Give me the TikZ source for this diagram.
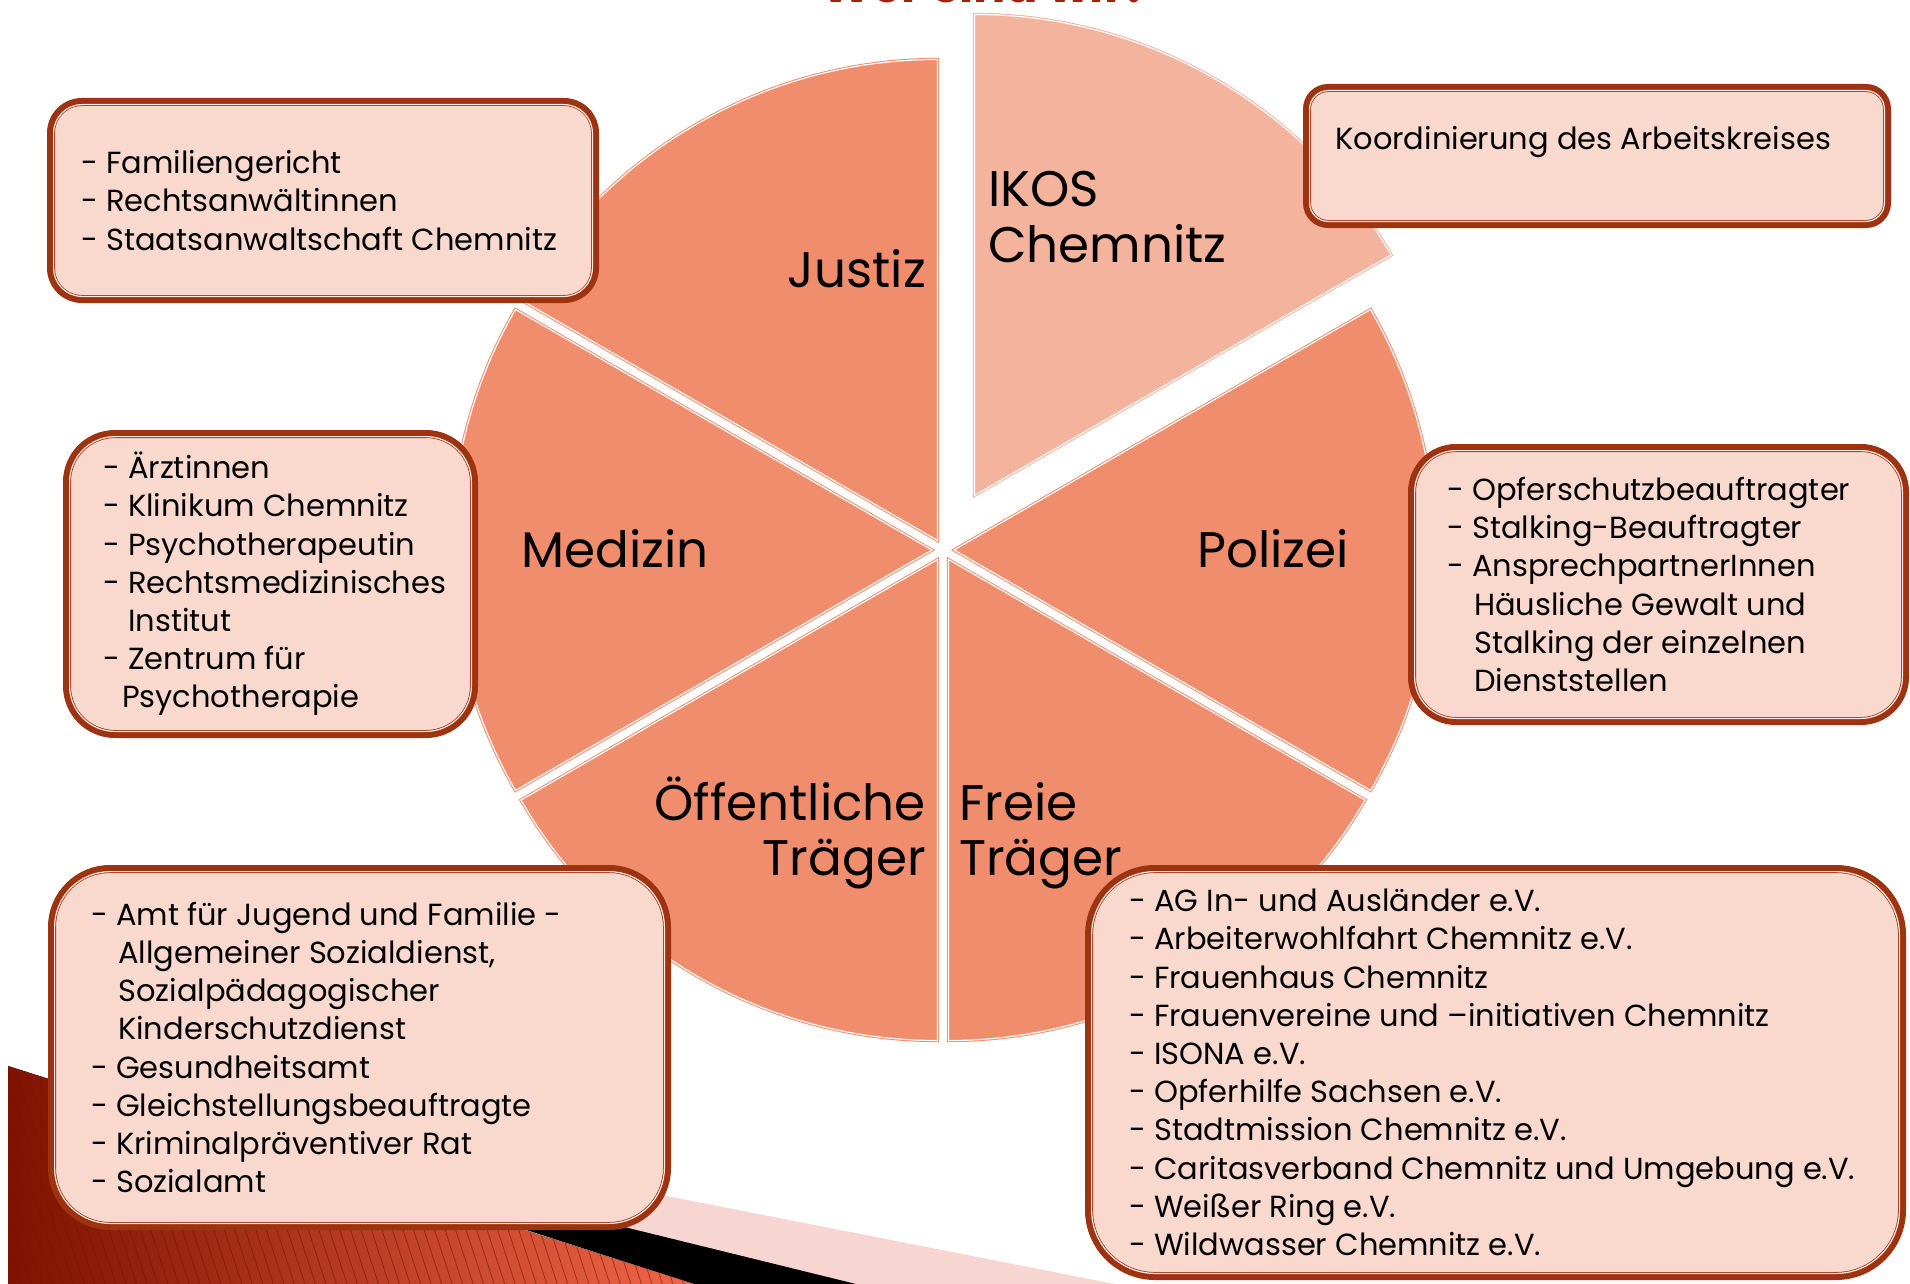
\documentclass[tikz,border=0pt]{standalone}
\usepackage{fontspec}
\setmainfont{Poppins}
\usepackage{tikz}
\usetikzlibrary{patterns.meta}

\definecolor{slicecol}{HTML}{EF8D6D}
\definecolor{ikoscol}{HTML}{F4B39D}
\definecolor{boxfill}{HTML}{F9D9CD}
\definecolor{boxline}{HTML}{9E3311}
\definecolor{boxlight}{HTML}{FBEAE3}
\definecolor{titlered}{HTML}{A3200F}
\definecolor{banddark}{HTML}{7E1200}
\definecolor{bandmid}{HTML}{C0280C}
\definecolor{bandlight}{HTML}{F06548}
\definecolor{hatchpink}{HTML}{F7D6D2}

\newcommand{\boxfont}{\fontsize{30.5}{38.2}\selectfont}
\newcommand{\slicefont}{\fontsize{50}{55}\selectfont}
\newcommand{\titlefont}{\fontsize{48}{52}\selectfont\bfseries}
\newcommand{\pieR}{481}

\tikzset{
	slice/.style={fill=#1, draw=#1, line width=1pt, double=white, double distance=1.2pt},
	infobox/.style={rectangle, anchor=north west, rounded corners=#1, fill=boxfill, draw=boxline, line width=8pt, inner sep=0pt, outer sep=0pt},
	boxinner/.style={draw=boxlight, line width=1.2pt},
	boxtext/.style={anchor=west, align=left, font=\boxfont, inner sep=0pt},
	slicelabel/.style={font=\slicefont, inner sep=0pt}
}

\begin{document}
\begin{tikzpicture}[x=1pt,y=-1pt]
		\useasboundingbox (0,0) rectangle (1910,1284);
		\clip (0,0) rectangle (1910,1284);
		\fill[white] (0,0) rectangle (1910,1284);
%		\draw[help lines,step=100] (0,0) grid (1910,1284);
		\path (943,550) coordinate (centre);

		% bands in the lower left corner
		\fill[hatchpink] (560,1175) -- (1115,1284) -- (856,1284) -- (560,1214) -- cycle;
		\fill[black] (169,1115) -- (856,1284) -- (694,1284) -- cycle;
		\fill[left color=banddark, middle color=bandmid, right color=bandlight] (8,1066) -- (694,1284) -- (8,1284) -- cycle;
		\fill[pattern={Lines[angle=-72,distance=10pt,line width=0.8pt]}, pattern color=banddark, opacity=0.6] (8,1066) -- (694,1284) -- (8,1284) -- cycle;

		% pie
		\foreach \a/\n in {90/justiz, 150/medizin, 210/oeff, 270/freie, 330/polizei}{
			\path (centre) ++(-\a-30:11) coordinate (\n tip);
			\draw[slice=slicecol] (\n tip) -- ++(-\a:\pieR) arc[start angle=-\a, end angle=-\a-60, radius=\pieR] -- cycle;
		}
		\path (centre) ++(-60:63) coordinate (ikostip);
		\draw[slice=ikoscol] (ikostip) -- ++(-30:\pieR) arc[start angle=-30, end angle=-90, radius=\pieR] -- cycle;

		\path (986,3) node(title) [anchor=base, font=\titlefont, text=titlered] {Wer sind wir?};

		\path (926,287) node(justizlabel) [slicelabel, anchor=base east] {Justiz};
		\path (988,207) node(ikoslabel) [slicelabel, anchor=base west] {IKOS};
		\path (988,262) node(ikoslabel2) [slicelabel, anchor=base west] {Chemnitz};
		\path (1197,567) node(polizeilabel) [slicelabel, anchor=base west] {Polizei};
		\path (521,567) node(medizinlabel) [slicelabel, anchor=base west] {Medizin};
		\path (926,820) node(oefflabel) [slicelabel, anchor=base east] {Öffentliche};
		\path (926,875) node(oefflabel2) [slicelabel, anchor=base east] {Träger};
		\path (959,820) node(freielabel) [slicelabel, anchor=base west] {Freie};
		\path (959,875) node(freielabel2) [slicelabel, anchor=base west] {Träger};

		% boxes
		\path (51,102) node(justizbox) [infobox=31, minimum width=544, minimum height=197] {};
		\path (1307,88) node(ikosbox) [infobox=21, minimum width=580, minimum height=136] {};
		\path (1412,448) node(polizeibox) [infobox=44, minimum width=493, minimum height=273] {};
		\path (67,434) node(medizinbox) [infobox=48, minimum width=407, minimum height=300] {};
		\path (52,869) node(oeffbox) [infobox=58, minimum width=615, minimum height=357] {};
		\path (1089,869) node(freiebox) [infobox=66, minimum width=813, minimum height=407] {};
		\foreach \b/\r in {justizbox/28.5, ikosbox/18.5, polizeibox/41.5, medizinbox/45.5, oeffbox/55.5, freiebox/63.5}
			\draw[boxinner, rounded corners=\r] ([shift={(2.6,2.6)}]\b.north west) rectangle ([shift={(-2.6,-2.6)}]\b.south east);

		\path ([xshift=30]justizbox.west) node(justiztext) [boxtext]
			{- Familiengericht\\- Rechtsanwältinnen\\- Staatsanwaltschaft Chemnitz};
		\path (1335,150) node(ikostext) [boxtext, anchor=base west] {Koordinierung des Arbeitskreises};
		\path ([xshift=35]polizeibox.west) node(polizeitext) [boxtext]
			{- Opferschutzbeauftragter\\- Stalking-Beauftragter\\- AnsprechpartnerInnen\\
			\hspace*{27pt}Häusliche Gewalt und\\\hspace*{27pt}Stalking der einzelnen\\\hspace*{27pt}Dienststellen};
		\path ([xshift=36]medizinbox.west) node(medizintext) [boxtext]
			{- Ärztinnen\\- Klinikum Chemnitz\\- Psychotherapeutin\\- Rechtsmedizinisches\\
			\hspace*{25pt}Institut\\- Zentrum für\\\hspace*{19pt}Psychotherapie};
		\path ([xshift=39]oeffbox.west) node(oefftext) [boxtext]
			{- Amt für Jugend und Familie -\\\hspace*{27pt}Allgemeiner Sozialdienst,\\
			\hspace*{27pt}Sozialpädagogischer\\\hspace*{27pt}Kinderschutzdienst\\- Gesundheitsamt\\
			- Gleichstellungsbeauftragte\\- Kriminalpräventiver Rat\\- Sozialamt};
		\path ([xshift=40]freiebox.west) node(freietext) [boxtext]
			{- AG In- und Ausländer e.V.\\- Arbeiterwohlfahrt Chemnitz e.V.\\- Frauenhaus Chemnitz\\
			- Frauenvereine und –initiativen Chemnitz\\- ISONA e.V.\\- Opferhilfe Sachsen e.V.\\
			- Stadtmission Chemnitz e.V.\\- Caritasverband Chemnitz und Umgebung e.V.\\
			- Weißer Ring e.V.\\- Wildwasser Chemnitz e.V.};
	\end{tikzpicture}
\end{document}
